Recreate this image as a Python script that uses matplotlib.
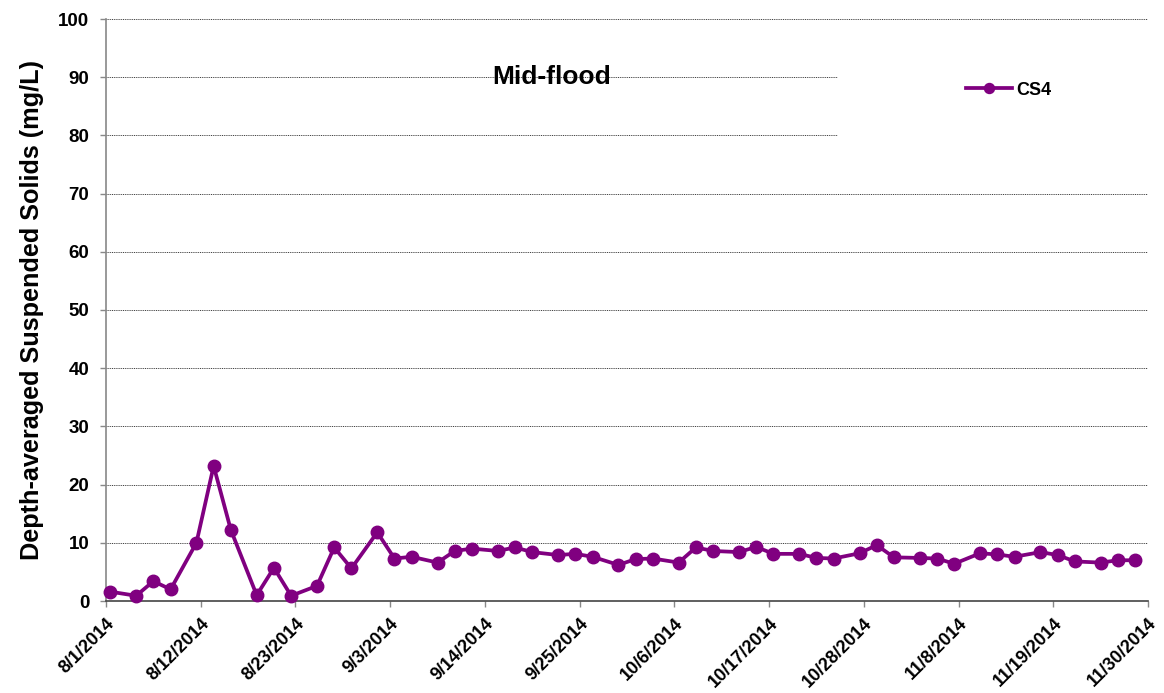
import matplotlib
matplotlib.use("Agg")
import matplotlib.pyplot as plt
from matplotlib.patches import Rectangle
import pandas as pd

plt.rcParams['font.family'] = ['Liberation Sans', 'DejaVu Sans']

# Sample times (days sampled around midday)
sample_times = [
    "2014-08-01 12:00", "2014-08-04 12:00", "2014-08-06 12:00", "2014-08-08 12:00",
    "2014-08-11 12:00", "2014-08-13 12:00", "2014-08-15 12:00", "2014-08-18 12:00",
    "2014-08-20 12:00", "2014-08-22 12:00", "2014-08-25 12:00", "2014-08-27 12:00",
    "2014-08-29 12:00", "2014-09-01 12:00", "2014-09-03 12:00", "2014-09-05 12:00",
    "2014-09-08 12:00", "2014-09-10 12:00", "2014-09-12 12:00", "2014-09-15 12:00",
    "2014-09-17 12:00", "2014-09-19 12:00", "2014-09-22 12:00", "2014-09-24 12:00",
    "2014-09-26 12:00", "2014-09-29 12:00", "2014-10-01 12:00", "2014-10-03 12:00",
    "2014-10-06 12:00", "2014-10-08 12:00", "2014-10-10 12:00", "2014-10-13 12:00",
    "2014-10-15 12:00", "2014-10-17 12:00", "2014-10-20 12:00", "2014-10-22 12:00",
    "2014-10-24 12:00", "2014-10-27 12:00", "2014-10-29 12:00", "2014-10-31 12:00",
    "2014-11-03 12:00", "2014-11-05 12:00", "2014-11-07 12:00", "2014-11-10 12:00",
    "2014-11-12 12:00", "2014-11-14 12:00", "2014-11-17 12:00", "2014-11-19 12:00",
    "2014-11-21 12:00", "2014-11-24 12:00", "2014-11-26 12:00", "2014-11-28 12:00",
]
cs4_values = [
    1.6, 0.9, 3.4, 2.0, 10.0, 23.2, 12.2, 1.0, 5.7, 0.9, 2.6, 9.2, 5.6, 11.8,
    7.3, 7.6, 6.6, 8.6, 9.0, 8.6, 9.2, 8.4, 7.9, 8.1, 7.6, 6.2, 7.2, 7.3, 6.6,
    9.2, 8.6, 8.4, 9.3, 8.1, 8.1, 7.4, 7.3, 8.2, 9.6, 7.5, 7.4, 7.3, 6.4, 8.2,
    8.0, 7.6, 8.4, 7.9, 6.8, 6.6, 7.0, 7.0,
]
tick_dates = ["2014-08-01", "2014-08-12", "2014-08-23", "2014-09-03", "2014-09-14",
              "2014-09-25", "2014-10-06", "2014-10-17", "2014-10-28", "2014-11-08",
              "2014-11-19", "2014-11-30"]
tick_labels = ["8/1/2014", "8/12/2014", "8/23/2014", "9/3/2014", "9/14/2014",
               "9/25/2014", "10/6/2014", "10/17/2014", "10/28/2014", "11/8/2014",
               "11/19/2014", "11/30/2014"]
y_ticks = [0, 10, 20, 30, 40, 50, 60, 70, 80, 90, 100]

color = "#800080"

fig = plt.figure(figsize=(11.64, 6.93), dpi=100)
ax = fig.add_axes([106/1164, 1 - 601/693, (1148-106)/1164, (601-19)/693])

x = pd.to_datetime(sample_times)
ax.plot(x, cs4_values, color=color, linewidth=2.7, marker='o', markersize=9,
        label="CS4", zorder=3, clip_on=False)

ax.set_xlim(pd.Timestamp(tick_dates[0]), pd.Timestamp(tick_dates[-1]))
ax.set_ylim(0, 100)
ax.set_yticks(y_ticks)
ax.set_yticklabels([str(v) for v in y_ticks], fontsize=13.5, fontweight='bold')
ax.set_xticks(pd.to_datetime(tick_dates))
ax.set_xticklabels(tick_labels, rotation=45, ha='right', rotation_mode='anchor',
                   fontsize=13, fontweight='bold')

ax.set_axisbelow(True)
ax.yaxis.grid(True, color='#222222', linestyle=(0, (1.2, 1)), linewidth=0.6)
ax.xaxis.grid(False)
for s in ['top', 'right']:
    ax.spines[s].set_visible(False)
ax.spines['left'].set_color('#888888')
ax.spines['left'].set_linewidth(1.2)
ax.spines['bottom'].set_color('#444444')
ax.spines['bottom'].set_linewidth(1.2)
ax.tick_params(axis='x', direction='out', length=4, width=1, colors='#888888',
               labelcolor='black', pad=6)
ax.tick_params(axis='y', direction='out', length=4, width=1, colors='#888888',
               labelcolor='black', pad=8)

ax.set_ylabel("Depth-averaged Suspended Solids (mg/L)", fontsize=18.2,
              fontweight='bold', labelpad=10)

# white legend area covering gridlines
ax.add_patch(Rectangle((0.7025, 0.77), 0.3, 0.175, transform=ax.transAxes,
                       facecolor='white', edgecolor='none', zorder=1.5))
leg = ax.legend(loc='center', bbox_to_anchor=(0.866, 0.878), frameon=False,
                prop={'weight': 'bold', 'size': 13}, handlelength=2.6,
                handletextpad=0.2, markerscale=0.8)

ax.text(0.428, 0.901, "Mid-flood", transform=ax.transAxes, ha='center',
        va='center', fontsize=19, fontweight='bold')

fig.savefig("out.png", dpi=100)
